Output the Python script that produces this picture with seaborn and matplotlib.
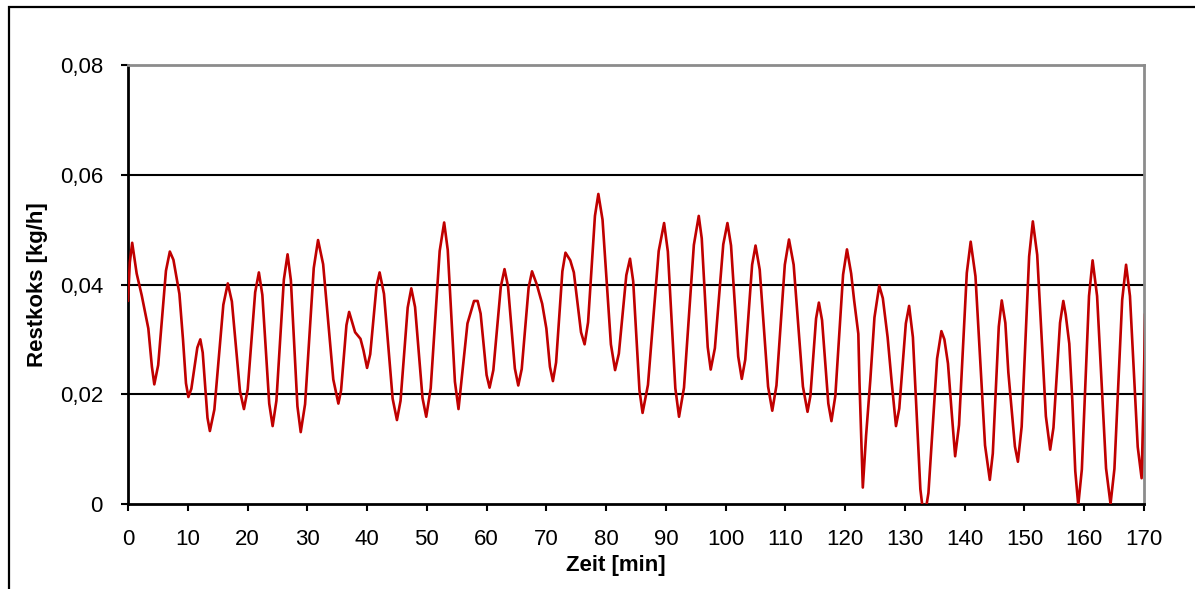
import matplotlib
matplotlib.use("Agg")
import matplotlib.pyplot as plt
from matplotlib.patches import Rectangle
from matplotlib.ticker import FuncFormatter
import seaborn as sns
import pandas as pd

# ---- data ----
time_min = [
    0.0, 0.3, 0.7, 1.45, 2.3, 3.4, 4.0, 4.4, 5.05, 5.7, 6.35, 7.0, 7.6, 8.6, 9.2, 9.7,
    10.1, 10.6, 11.1, 11.6, 12.1, 12.5, 12.9, 13.3, 13.7, 14.45, 15.2, 15.95, 16.7,
    17.38, 18.05, 18.73, 19.4, 20.03, 20.65, 21.28, 21.9, 22.48, 23.05, 23.63, 24.2,
    24.83, 25.45, 26.08, 26.7, 27.25, 27.8, 28.35, 28.9, 29.63, 30.35, 31.08, 31.8,
    32.65, 33.5, 34.35, 35.2, 35.65, 36.1, 36.55, 37.0, 37.4, 38.0, 38.9, 39.4, 40.0,
    40.53, 41.05, 41.58, 42.1, 42.83, 43.55, 44.28, 45.0, 45.6, 46.2, 46.8, 47.4,
    48.03, 48.65, 49.28, 49.9, 50.65, 51.4, 52.15, 52.9, 53.5, 54.1, 54.7, 55.3,
    55.9, 56.8, 57.9, 58.5, 59.0, 59.5, 60.0, 60.5, 61.13, 61.75, 62.38, 63.0,
    63.58, 64.15, 64.73, 65.3, 65.88, 66.45, 67.03, 67.6, 68.4, 69.3, 70.0, 70.6,
    71.1, 71.63, 72.15, 72.68, 73.2, 74.0, 74.6, 75.2, 75.8, 76.4, 76.98, 77.55,
    78.13, 78.7, 79.4, 80.1, 80.8, 81.5, 82.13, 82.75, 83.38, 84.0, 84.53, 85.05,
    85.58, 86.1, 87.0, 87.9, 88.8, 89.7, 90.33, 90.95, 91.58, 92.2, 93.03, 93.85,
    94.68, 95.5, 96.0, 96.5, 97.0, 97.5, 98.2, 98.9, 99.6, 100.3, 100.9, 101.5,
    102.1, 102.7, 103.28, 103.85, 104.43, 105.0, 105.7, 106.4, 107.1, 107.8, 108.5,
    109.2, 109.9, 110.6, 111.38, 112.15, 112.93, 113.7, 114.18, 114.65, 115.13,
    115.6, 116.13, 116.65, 117.18, 117.7, 118.35, 119.0, 119.65, 120.3, 121.0,
    121.5, 122.2, 122.4, 122.95, 123.5, 124.2, 124.9, 125.7, 126.3, 127.1, 127.8,
    128.5, 129.05, 129.6, 130.15, 130.7, 131.33, 131.95, 132.58, 133.2, 133.93,
    134.65, 135.38, 136.1, 136.6, 137.2, 137.8, 138.4, 139.05, 139.7, 140.35, 141.0,
    141.8, 142.6, 143.4, 144.2, 144.7, 145.2, 145.7, 146.2, 146.8, 147.3, 148.4,
    148.9, 149.53, 150.15, 150.78, 151.4, 152.13, 152.85, 153.58, 154.3, 154.85,
    155.4, 155.95, 156.5, 156.9, 157.5, 158.0, 158.5, 159.0, 159.6, 160.2, 160.8,
    161.4, 162.15, 162.9, 163.65, 164.4, 165.05, 165.7, 166.35, 167.0, 167.65,
    168.3, 168.95, 169.6, 169.9, 170.2,
]
restkoks = [
    0.0370, 0.0440, 0.0476, 0.0420, 0.0380, 0.0320, 0.0250, 0.0218, 0.0253, 0.0339,
    0.0425, 0.0460, 0.0445, 0.0383, 0.0300, 0.0220, 0.0195, 0.0210, 0.0248, 0.0285,
    0.0300, 0.0276, 0.0217, 0.0157, 0.0133, 0.0172, 0.0268, 0.0363, 0.0402, 0.0369,
    0.0288, 0.0206, 0.0173, 0.0209, 0.0298, 0.0386, 0.0422, 0.0381, 0.0282, 0.0183,
    0.0142, 0.0188, 0.0299, 0.0409, 0.0455, 0.0408, 0.0293, 0.0178, 0.0131, 0.0182,
    0.0306, 0.0430, 0.0481, 0.0437, 0.0332, 0.0227, 0.0183, 0.0207, 0.0267, 0.0326,
    0.0350, 0.0335, 0.0313, 0.0301, 0.0280, 0.0248, 0.0273, 0.0335, 0.0397, 0.0422,
    0.0383, 0.0288, 0.0192, 0.0153, 0.0188, 0.0273, 0.0358, 0.0393, 0.0359, 0.0276,
    0.0193, 0.0159, 0.0211, 0.0336, 0.0461, 0.0513, 0.0463, 0.0343, 0.0223, 0.0173,
    0.0235, 0.0329, 0.0370, 0.0370, 0.0347, 0.0291, 0.0235, 0.0212, 0.0244, 0.0320,
    0.0396, 0.0428, 0.0397, 0.0322, 0.0247, 0.0216, 0.0246, 0.0320, 0.0394, 0.0424,
    0.0400, 0.0365, 0.0320, 0.0250, 0.0224, 0.0258, 0.0341, 0.0424, 0.0458, 0.0444,
    0.0422, 0.0368, 0.0313, 0.0291, 0.0331, 0.0428, 0.0525, 0.0565, 0.0518, 0.0405,
    0.0291, 0.0244, 0.0274, 0.0346, 0.0417, 0.0447, 0.0406, 0.0307, 0.0207, 0.0166,
    0.0217, 0.0339, 0.0461, 0.0512, 0.0460, 0.0336, 0.0211, 0.0159, 0.0212, 0.0342,
    0.0472, 0.0525, 0.0484, 0.0385, 0.0286, 0.0245, 0.0284, 0.0379, 0.0473, 0.0512,
    0.0471, 0.0370, 0.0269, 0.0228, 0.0263, 0.0350, 0.0436, 0.0471, 0.0427, 0.0321,
    0.0214, 0.0170, 0.0216, 0.0326, 0.0436, 0.0482, 0.0436, 0.0325, 0.0214, 0.0168,
    0.0197, 0.0268, 0.0338, 0.0367, 0.0335, 0.0259, 0.0183, 0.0151, 0.0197, 0.0308,
    0.0418, 0.0464, 0.0420, 0.0371, 0.0310, 0.0220, 0.0030, 0.0125, 0.0225, 0.0340,
    0.0398, 0.0375, 0.0304, 0.0220, 0.0142, 0.0174, 0.0252, 0.0329, 0.0361, 0.0304,
    0.0166, 0.0027, -0.0030, 0.0020, 0.0143, 0.0265, 0.0315, 0.0300, 0.0256, 0.0170,
    0.0087, 0.0144, 0.0283, 0.0421, 0.0478, 0.0415, 0.0261, 0.0107, 0.0044, 0.0092,
    0.0208, 0.0323, 0.0371, 0.0330, 0.0240, 0.0105, 0.0077, 0.0141, 0.0296, 0.0451,
    0.0515, 0.0454, 0.0307, 0.0160, 0.0099, 0.0139, 0.0235, 0.0330, 0.0370, 0.0345,
    0.0292, 0.0190, 0.0060, -0.0002, 0.0063, 0.0221, 0.0379, 0.0444, 0.0379, 0.0222,
    0.0065, 0.0000, 0.0064, 0.0218, 0.0372, 0.0436, 0.0379, 0.0242, 0.0104, 0.0047,
    0.0180, 0.0347,
]
x_ticks = list(range(0, 171, 10))
y_ticks = [0.0, 0.02, 0.04, 0.06, 0.08]
x_label = "Zeit [min]"
y_label = "Restkoks [kg/h]"

df = pd.DataFrame({"t": time_min, "v": restkoks})

sns.set_theme(style="white")
plt.rcParams["font.family"] = ["Liberation Sans", "DejaVu Sans"]

fig = plt.figure(figsize=(11.95, 5.89), dpi=100)
ax = fig.add_axes([128 / 1195, 85 / 589, 1016 / 1195, 439 / 589])

for yv in y_ticks[1:-1]:
    ax.axhline(yv, color="black", lw=1.5, zorder=1)

sns.lineplot(data=df, x="t", y="v", ax=ax, color="#C00000", lw=1.9,
             estimator=None, sort=False, zorder=3,
             solid_joinstyle="round", solid_capstyle="round")

ax.set_xlim(0, 170)
ax.set_ylim(0, 0.08)
ax.set_xticks(x_ticks)
ax.set_yticks(y_ticks)


def fmt(v, _):
    if abs(v) < 1e-12:
        return "0"
    return f"{v:.2f}".replace(".", ",")


ax.yaxis.set_major_formatter(FuncFormatter(fmt))
ax.tick_params(axis="both", which="major", labelsize=16, colors="black",
               length=5, width=1.5, direction="out")
ax.tick_params(axis="x", pad=13)
ax.tick_params(axis="y", pad=13)
ax.tick_params(left=True, bottom=True)

for side in ["left", "bottom"]:
    ax.spines[side].set_color("black")
    ax.spines[side].set_linewidth(2)
for side in ["top", "right"]:
    ax.spines[side].set_color("#8c8c8c")
    ax.spines[side].set_linewidth(2)
    ax.spines[side].set_visible(True)

ax.set_xlabel(x_label, fontsize=16, fontweight="bold", color="black")
ax.set_ylabel(y_label, fontsize=16, fontweight="bold", color="black")
ax.xaxis.label.set_va("center")
ax.yaxis.label.set_va("center")
ax.xaxis.set_label_coords(0.480, -0.141)
ax.yaxis.set_label_coords(-0.0887, 0.5)

# outer chart frame (left and top visible, rest outside the image)
frame = Rectangle((9 / 1195, -0.2), 1.2, 1.2 - 7 / 589, transform=fig.transFigure,
                  fill=False, edgecolor="black", lw=1.6, clip_on=False)
fig.add_artist(frame)

fig.savefig("out.png", dpi=100, facecolor="white")
